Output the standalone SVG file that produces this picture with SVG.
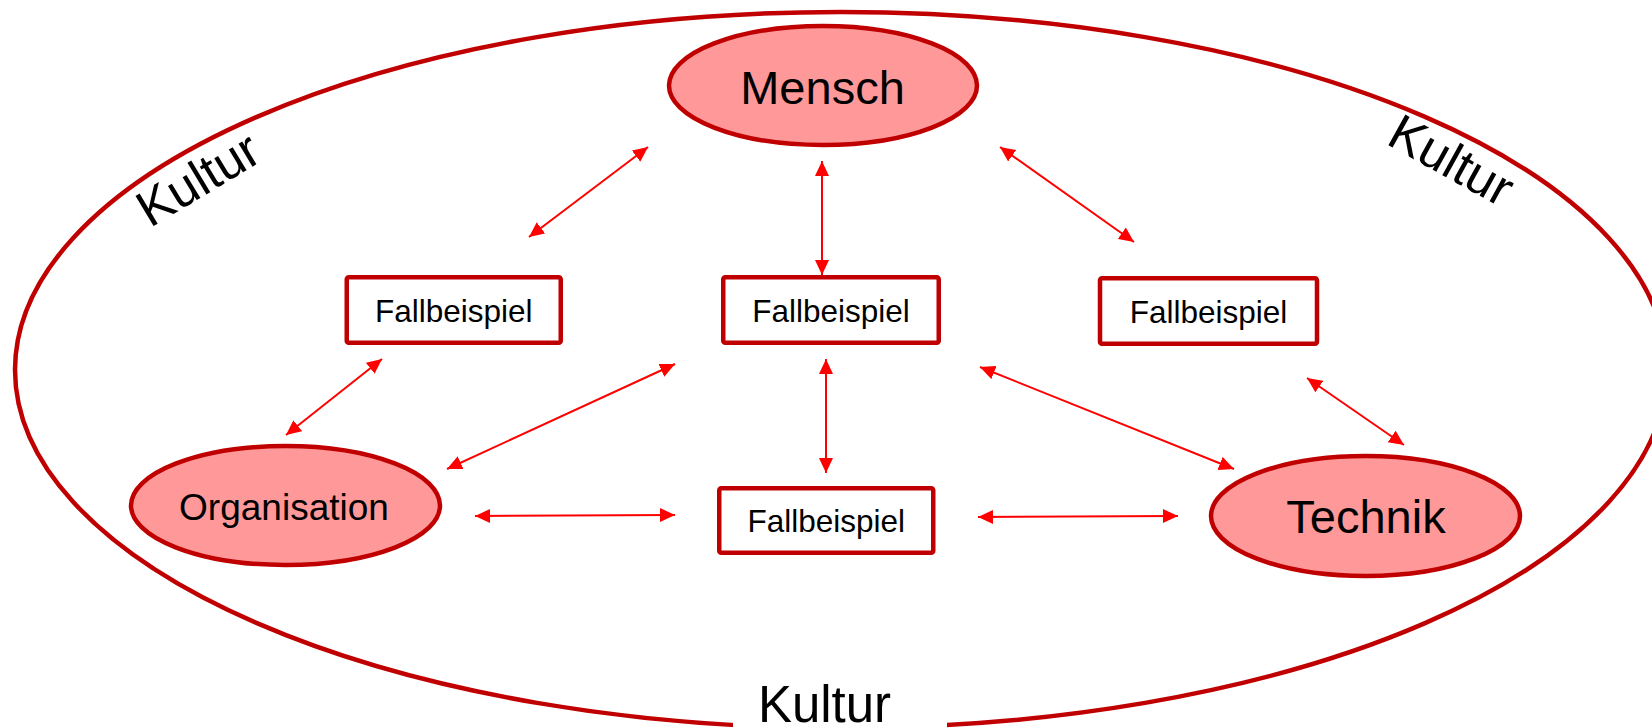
<svg xmlns="http://www.w3.org/2000/svg" width="1652" height="728" viewBox="0 0 1652 728">
  <style>
    .frame { fill: none; stroke: #C00000; stroke-width: 4.5; }
    .node-ell { fill: #FF9999; stroke: #C00000; stroke-width: 4.5; }
    .node-box { fill: #FFFFFF; stroke: #C00000; stroke-width: 4.5; }
    .lbl { font-family: "Liberation Sans", Arial, sans-serif; fill: #000000; text-anchor: middle; }
    .conn { stroke: #FF0000; stroke-width: 2; fill: none; marker-start: url(#arr); marker-end: url(#arr); }
  </style>
  <defs>
    <marker id="arr" markerUnits="userSpaceOnUse" markerWidth="16" markerHeight="15" refX="15" refY="7" orient="auto-start-reverse" viewBox="0 0 16 14">
      <path d="M0,0 L15,7 L0,14 z" fill="#FF0000"/>
    </marker>
  </defs>
  <rect x="0" y="0" width="1652" height="728" fill="#FFFFFF"/>

  <g id="kultur">
    <ellipse class="frame" cx="841" cy="370" rx="826" ry="358"/>
    <rect x="733" y="680" width="214" height="48" fill="#FFFFFF"/>
    <text class="lbl" x="824.5" y="722" font-size="51">Kultur</text>
    <text class="lbl" font-size="51" transform="translate(207,194) rotate(-31)">Kultur</text>
    <text class="lbl" font-size="51" transform="translate(1443,175.5) rotate(29)">Kultur</text>
  </g>

  <g id="connectors">
    <line class="conn" x1="648" y1="147" x2="529" y2="237"/>
    <line class="conn" x1="822" y1="161" x2="822" y2="275"/>
    <line class="conn" x1="1000" y1="147" x2="1134" y2="242"/>
    <line class="conn" x1="382" y1="359" x2="286" y2="435"/>
    <line class="conn" x1="675" y1="364" x2="447" y2="469"/>
    <line class="conn" x1="475" y1="516" x2="675" y2="515"/>
    <line class="conn" x1="826" y1="359" x2="826" y2="473"/>
    <line class="conn" x1="980" y1="367" x2="1234" y2="469"/>
    <line class="conn" x1="978" y1="517" x2="1178" y2="516"/>
    <line class="conn" x1="1307" y1="378" x2="1404" y2="445"/>
  </g>

  <g id="mensch">
    <ellipse class="node-ell" cx="823" cy="85.5" rx="154" ry="59.5"/>
    <text class="lbl" x="822.5" y="104" font-size="47">Mensch</text>
  </g>
  <g id="organisation">
    <ellipse class="node-ell" cx="285.5" cy="505.5" rx="154.5" ry="59.5"/>
    <text class="lbl" x="284" y="520" font-size="37">Organisation</text>
  </g>
  <g id="technik">
    <ellipse class="node-ell" cx="1365.5" cy="516" rx="154.5" ry="60"/>
    <text class="lbl" x="1366" y="533" font-size="47">Technik</text>
  </g>

  <g id="fallbeispiel-left">
    <rect class="node-box" x="346.75" y="277.25" width="214" height="65.5" rx="2"/>
    <text class="lbl" x="453.8" y="321.5" font-size="31.5">Fallbeispiel</text>
  </g>
  <g id="fallbeispiel-center">
    <rect class="node-box" x="723.25" y="277.25" width="215.5" height="65.5" rx="2"/>
    <text class="lbl" x="831" y="321.5" font-size="31.5">Fallbeispiel</text>
  </g>
  <g id="fallbeispiel-right">
    <rect class="node-box" x="1100" y="278.25" width="217" height="65.5" rx="2"/>
    <text class="lbl" x="1208.5" y="322.5" font-size="31.5">Fallbeispiel</text>
  </g>
  <g id="fallbeispiel-bottom">
    <rect class="node-box" x="719.25" y="488.25" width="214" height="64.5" rx="2"/>
    <text class="lbl" x="826.3" y="531.7" font-size="31.5">Fallbeispiel</text>
  </g>
</svg>
